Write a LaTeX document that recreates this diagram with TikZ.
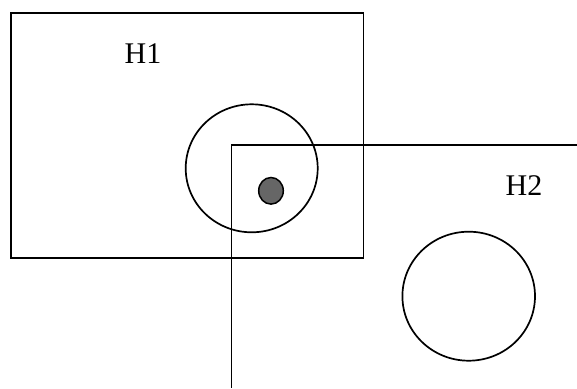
\documentclass[tikz,border=0pt]{standalone}
\usepackage{fontspec}
\setmainfont{Liberation Serif}
\usetikzlibrary{shapes.geometric}
\begin{document}
\begin{tikzpicture}[x=1pt,y=-1pt,
  shape line/.style={line width=1.7pt, draw=black},
  label text/.style={font=\fontsize{30}{30}\selectfont, inner sep=0pt, anchor=base}]
\useasboundingbox (0,0) rectangle (577,388);
% H1 rectangle
\draw[shape line] (10.7,13.3) rectangle (363.5,258);
\node[label text] (h1) at (143,63) {H1};
% circle in H1
\draw[shape line] (251.7,168.3) ellipse [x radius=66, y radius=64];
% filled dot
\draw[line width=1.5pt, fill={rgb,255:red,102;green,102;blue,102}] (271,190.8) ellipse [x radius=12.3, y radius=13.3];
% H2 corner
\coordinate (c) at (231.5,145);
\coordinate (r) at (577,145);
\coordinate (b) at (231.5,388);
\draw[shape line] (r) -- (c) -- (b);
\node[label text] (h2) at (524,195) {H2};
% circle in H2
\draw[shape line] (468.7,296.2) ellipse [x radius=66.3, y radius=64.5];
\end{tikzpicture}
\end{document}
